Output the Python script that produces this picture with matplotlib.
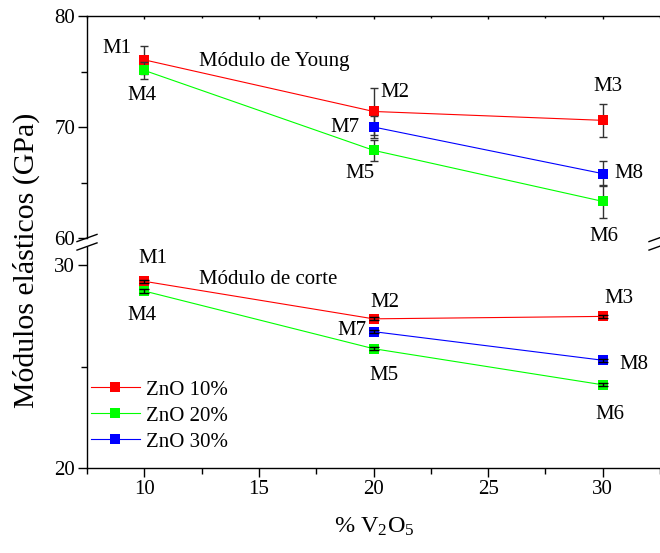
import matplotlib
matplotlib.use("Agg")
import matplotlib.pyplot as plt
from matplotlib.lines import Line2D
from matplotlib.ticker import MultipleLocator
import numpy as np

plt.rcParams['font.family'] = ['Liberation Serif', 'DejaVu Serif']
plt.rcParams['mathtext.fontset'] = 'custom'
plt.rcParams['mathtext.rm'] = 'Liberation Serif'
plt.rcParams['mathtext.it'] = 'Liberation Serif:italic'

# ---- data -------------------------------------------------------------
x_v2o5 = [10, 20, 30]
x_v2o5_zn30 = [20, 30]
series_names = ['ZnO 10%', 'ZnO 20%', 'ZnO 30%']
series_colors = ['#ff0000', '#00ff00', '#0000ff']

# Young's modulus (GPa)
young_zn10 = [76.05, 71.4, 70.6]
young_zn10_err = [1.25, 2.15, 1.5]
young_zn20 = [75.1, 67.9, 63.3]
young_zn20_err = [0.8, 0.95, 1.5]
young_zn30 = [70.0, 65.8]
young_zn30_err = [0.95, 1.15]

# Shear modulus (GPa)
shear_zn10 = [29.2, 27.35, 27.47]
shear_zn10_err = [0.08, 0.08, 0.08]
shear_zn20 = [28.72, 25.88, 24.1]
shear_zn20_err = [0.08, 0.08, 0.08]
shear_zn30 = [26.72, 25.31]
shear_zn30_err = [0.08, 0.08]

young_labels = ['M1', 'M2', 'M3', 'M4', 'M5', 'M6', 'M7', 'M8']
shear_labels = ['M1', 'M2', 'M3', 'M4', 'M5', 'M6', 'M7', 'M8']

# ---- figure layout ----------------------------------------------------
W, H = 660, 553
fig = plt.figure(figsize=(W / 100, H / 100), dpi=100)


def rect(left, top, right, bottom):
    return [left / W, 1 - bottom / H, (right - left) / W, (bottom - top) / H]


ax_top = fig.add_axes(rect(87, 16, 660, 238))
ax_bot = fig.add_axes(rect(87, 247, 660, 468))

FS = 15
ms = 7.2
lw = 0.8
ecol = '#333333'

top_sets = [(x_v2o5, young_zn10, young_zn10_err),
            (x_v2o5, young_zn20, young_zn20_err),
            (x_v2o5_zn30, young_zn30, young_zn30_err)]
bot_sets = [(x_v2o5, shear_zn10, shear_zn10_err),
            (x_v2o5, shear_zn20, shear_zn20_err),
            (x_v2o5_zn30, shear_zn30, shear_zn30_err)]

for i, ((xs, ys, es), c) in enumerate(zip(top_sets, series_colors)):
    z = 3 + i
    ax_top.plot(xs, ys, '-', color=c, lw=lw, zorder=z)
    ax_top.errorbar(xs, ys, yerr=es, fmt='none', ecolor=ecol, elinewidth=1.0,
                    capsize=3.1, capthick=1.0, zorder=z + 0.1)
    ax_top.plot(xs, ys, 's', color=c, ms=ms, mew=0, zorder=z + 0.2)

for i, ((xs, ys, es), c) in enumerate(zip(bot_sets, series_colors)):
    z = 3 + i
    ax_bot.plot(xs, ys, '-', color=c, lw=lw, zorder=z)
    ax_bot.plot(xs, ys, 's', color=c, ms=ms, mew=0, zorder=z + 0.1)
    ax_bot.errorbar(xs, ys, yerr=es, fmt='none', ecolor='black', elinewidth=1.0,
                    capsize=3.3, capthick=1.0, zorder=z + 0.2)

# ---- axes styling -----------------------------------------------------
for ax in (ax_top, ax_bot):
    ax.set_xlim(7.5, 32.5)
    ax.spines['right'].set_visible(False)
    for s in ax.spines.values():
        s.set_linewidth(1.0)
    ax.xaxis.set_major_locator(MultipleLocator(5))
    ax.xaxis.set_minor_locator(MultipleLocator(2.5))
    ax.yaxis.set_major_locator(MultipleLocator(10))
    ax.yaxis.set_minor_locator(MultipleLocator(5))
    ax.tick_params(which='major', direction='out', length=6.5, width=1.0,
                   labelsize=FS, pad=2)
    ax.tick_params(which='minor', direction='out', length=4, width=1.0)
    ax.tick_params(axis='y', which='both', right=False)

ax_top.set_ylim(60, 80)
ax_top.spines['bottom'].set_visible(False)
ax_top.tick_params(axis='x', which='both', bottom=False, labelbottom=False,
                   top=True, direction='in', length=2.5)
ax_top.tick_params(axis='x', which='minor', length=1.5)

ax_bot.set_ylim(20, 30.89)
ax_bot.spines['top'].set_visible(False)
ax_bot.tick_params(axis='x', which='both', top=False)

# ---- axis break marks -------------------------------------------------
def fig_line(x0, y0, x1, y1):
    fig.add_artist(Line2D([x0 / W, x1 / W], [1 - y0 / H, 1 - y1 / H],
                          transform=fig.transFigure, color='black', lw=1.0,
                          clip_on=False))

for xc in (87, 659):
    for yc in (238, 246.5):
        fig_line(xc - 10, yc + 3.6, xc + 10, yc - 3.6)

# ---- point labels -----------------------------------------------------
top_pos = [(8.81, 77.1), (20.94, 73.13), (30.21, 73.69), (9.89, 72.82),
           (19.43, 65.83), (30.05, 60.12), (18.77, 69.94), (31.16, 65.77)]
bot_pos = [(10.36, 30.3), (20.48, 28.16), (30.69, 28.36), (9.89, 27.5),
           (20.44, 24.54), (30.3, 22.65), (19.06, 26.79), (31.36, 25.11)]
for lab, (px, py) in zip(young_labels, top_pos):
    ax_top.text(px, py, lab, ha='center', va='center', fontsize=FS,
                clip_on=False, zorder=10)
for lab, (px, py) in zip(shear_labels, bot_pos):
    ax_bot.text(px, py, lab, ha='center', va='center', fontsize=FS,
                clip_on=False, zorder=10)

ax_top.text(12.39, 75.88, 'Módulo de Young', ha='left', va='center', fontsize=FS)
ax_bot.text(12.39, 29.31, 'Módulo de corte', ha='left', va='center', fontsize=FS)

# ---- legend -----------------------------------------------------------
handles = [Line2D([], [], color=c, lw=lw, marker='s', ms=ms, mew=0)
           for c in series_colors]
ax_bot.legend(handles, series_names, loc='upper left',
              bbox_to_anchor=(91 / W, 1 - 380 / H),
              bbox_transform=fig.transFigure, frameon=False, fontsize=FS,
              handlelength=2.35, handletextpad=0.3, labelspacing=0.31,
              borderpad=0, borderaxespad=0, numpoints=1)

# ---- axis titles ------------------------------------------------------
fig.text(26 / W, 1 - 260 / H, 'Módulos elásticos (GPa)', rotation=90,
         ha='center', va='center', fontsize=21.5)
fig.text(374 / W, 1 - 527 / H, r'% V$_2$O$_5$', ha='center', va='center',
         fontsize=17.5)

fig.savefig('out.png', dpi=100)
